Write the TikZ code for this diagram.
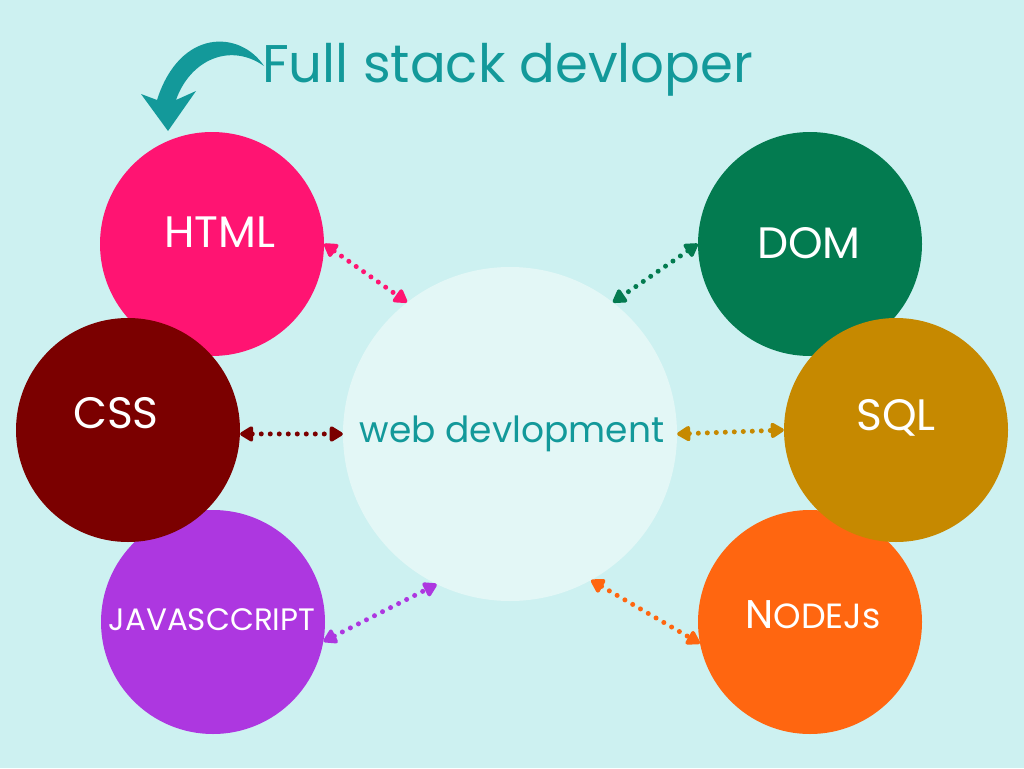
\documentclass[tikz,border=0pt]{standalone}
\usepackage{fontspec}
\setmainfont{Poppins}
\usetikzlibrary{arrows.meta}
\definecolor{bgc}{HTML}{CDF1F1}
\definecolor{tealc}{HTML}{13999A}
\definecolor{webc}{HTML}{E3F7F6}
\definecolor{htmlc}{HTML}{FF1472}
\definecolor{cssc}{HTML}{7B0000}
\definecolor{jsc}{HTML}{AD37E0}
\definecolor{domc}{HTML}{037B50}
\definecolor{sqlc}{HTML}{C68900}
\definecolor{nodec}{HTML}{FF6610}
\tikzset{
  ball/.style={circle, inner sep=0pt, minimum size=224pt},
  lbl/.style={text=white, font=\fontsize{44}{50}\selectfont, inner sep=0pt},
  conn/.style={line width=5pt, line cap=round, dash pattern=on 0pt off 9pt,
     {Triangle[length=15pt,width=17pt,round]}-{Triangle[length=15pt,width=17pt,round]}}
}
\begin{document}
\begin{tikzpicture}[x=1pt,y=-1pt]
\fill[bgc] (0,0) rectangle (1024,768);
\useasboundingbox (0,0) rectangle (1024,768);
% circles
\node[ball, fill=webc, minimum size=334pt] (web) at (510,434) {};
\node[ball, fill=htmlc] (html) at (212,244) {};
\node[ball, fill=jsc] (js) at (213,622) {};
\node[ball, fill=cssc] (css) at (128,430) {};
\node[ball, fill=domc] (dom) at (810,244) {};
\node[ball, fill=nodec] (nodejs) at (810,622) {};
\node[ball, fill=sqlc] (sql) at (896,430) {};
% labels
\node[lbl, anchor=base] (htmlt) at (220,247) {HTML};
\node[lbl, anchor=base] (csst) at (116,428) {CSS};
\node[lbl, anchor=base, font=\fontsize{31}{36}\selectfont] (jst) at (212,630) {JAVASCCRIPT};
\node[lbl, anchor=base] (domt) at (809,258) {DOM};
\node[lbl, anchor=base] (sqlt) at (896,430) {SQL};
\node[lbl, anchor=base, font=\fontsize{40}{46}\selectfont] (nodet) at (813,628) {N{\fontsize{35}{40}\selectfont ODEJs}};
\node[text=tealc, anchor=base, inner sep=0pt, font=\fontsize{36}{42}\selectfont] (webt) at (512,442) {web devlopment};
\node[text=tealc, anchor=base west, inner sep=0pt, font=\fontsize{53}{60}\selectfont] (title) at (262,82) {Full stack devloper};
% connectors
\draw[conn, htmlc] (html.0) -- (web.128);
\draw[conn, cssc] (css.-2.5) -- (web.180.3);
\draw[conn, jsc] (js.-10) -- (web.244);
\draw[conn, domc] (dom.180) -- (web.52);
\draw[conn, sqlc] (web.0) -- (sql.180);
\draw[conn, nodec] (web.-61) -- (nodejs.191.6);
% curved arrow
\fill[tealc] (264,66) .. controls (240,30) and (180,28) .. (157,100) -- (141,94)
  -- (168,131) -- (196,91) -- (176,100) .. controls (190,60) and (230,42) .. (264,66) -- cycle;
\end{tikzpicture}
\end{document}
